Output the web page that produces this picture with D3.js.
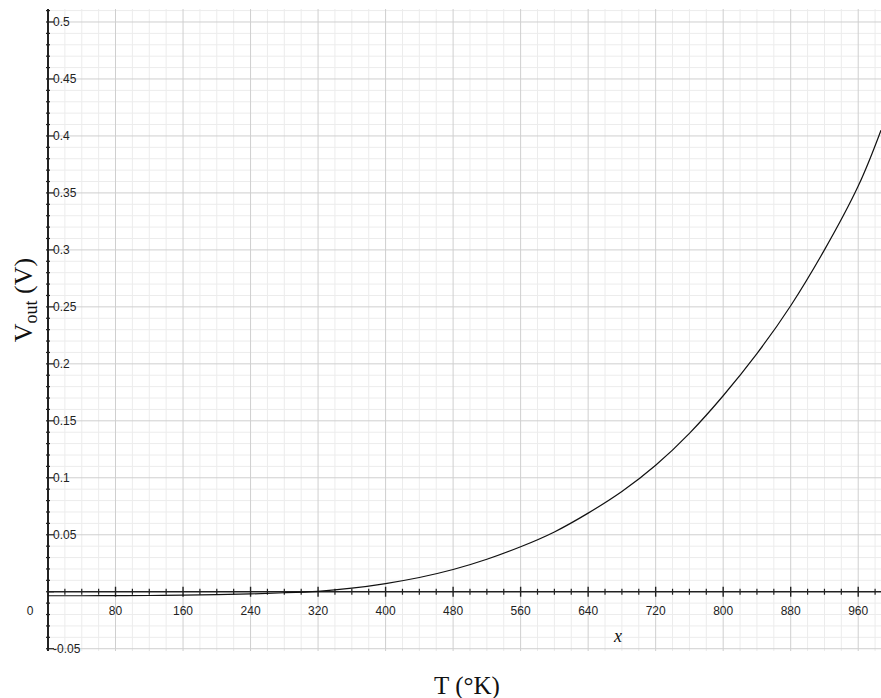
<!DOCTYPE html>
<html>
<head>
<meta charset="utf-8">
<script src="https://cdn.jsdelivr.net/npm/d3@7"></script>
<style>
  body { margin: 0; background: #fff; }
  .tick-label { font-family: "Liberation Sans", Arial, sans-serif; font-size: 12px; fill: #222; }
  .axis-title { font-family: "Liberation Serif", "Times New Roman", serif; fill: #111; }
</style>
</head>
<body>
<svg id="chart" width="881" height="698"></svg>
<script>
// temperature (K) and output voltage (V)
const temps = [0, 40, 80, 120, 160, 200, 240, 280, 320, 360, 400, 440, 480, 520, 560,
               600, 640, 680, 720, 760, 800, 840, 880, 920, 960, 987];
const vout  = [-0.0035, -0.0035, -0.0034, -0.0033, -0.0030, -0.0026, -0.0019, -0.0009, 0.0004,
               0.0031, 0.0072, 0.0125, 0.0195, 0.0285, 0.0395, 0.0525, 0.069, 0.088, 0.111,
               0.139, 0.172, 0.209, 0.251, 0.300, 0.356, 0.405];
const xTicks = [80, 160, 240, 320, 400, 480, 560, 640, 720, 800, 880, 960];
const yTicks = [-0.05, 0.05, 0.1, 0.15, 0.2, 0.25, 0.3, 0.35, 0.4, 0.45, 0.5];

const svg = d3.select("#chart");

let x = d3.scaleLinear().domain([0, 987]).range([48, 881]);
let y = d3.scaleLinear().domain([-0.052, 0.5114]).range([651, 9]);

const [x0, x1] = x.range();
const [yb, yt] = y.range();

// grid: minor every 20 K / 0.01 V, major every 80 K / 0.05 V
let minorX = d3.range(20, 987, 20).filter(d => d % 80 !== 0);
let minorY = d3.range(-5, 52).map(i => i / 100).filter(d => Math.round(d * 100) % 5 !== 0);
let majorY = d3.range(-1, 11).map(i => i * 0.05).filter(d => Math.abs(d) > 1e-9);

const grid = svg.append("g");
grid.selectAll(".gx").data(minorX).enter().append("line")
    .attr("x1", d => x(d)).attr("x2", d => x(d)).attr("y1", yt).attr("y2", yb)
    .attr("stroke", "#ececec").attr("stroke-width", 1);
grid.selectAll(".gy").data(minorY).enter().append("line")
    .attr("x1", x0).attr("x2", x1).attr("y1", d => y(d)).attr("y2", d => y(d))
    .attr("stroke", "#ececec").attr("stroke-width", 1);
grid.selectAll(".gX").data(xTicks).enter().append("line")
    .attr("x1", d => x(d)).attr("x2", d => x(d)).attr("y1", yt).attr("y2", yb)
    .attr("stroke", "#cfcfcf").attr("stroke-width", 1);
grid.selectAll(".gY").data(majorY).enter().append("line")
    .attr("x1", x0).attr("x2", x1).attr("y1", d => y(d)).attr("y2", d => y(d))
    .attr("stroke", "#cfcfcf").attr("stroke-width", 1);

// x axis along V = 0
const xAxisG = svg.append("g").attr("transform", `translate(0,${y(0)})`);
xAxisG.append("line").attr("x1", x0).attr("x2", x1).attr("stroke", "#222").attr("stroke-width", 1.6);
xAxisG.selectAll(".tk").data(d3.range(20, 987, 20)).enter().append("line")
    .attr("x1", d => x(d)).attr("x2", d => x(d))
    .attr("y1", d => d % 80 === 0 ? -5 : -3).attr("y2", d => d % 80 === 0 ? 5 : 3)
    .attr("stroke", "#222").attr("stroke-width", d => d % 80 === 0 ? 1.4 : 1.2);
xAxisG.selectAll(".lb").data(xTicks).enter().append("text")
    .attr("class", "tick-label").attr("text-anchor", "middle")
    .attr("x", d => x(d)).attr("y", 23).text(d => d);
xAxisG.append("text").attr("class", "tick-label").attr("text-anchor", "middle")
    .attr("x", 30).attr("y", 23).text("0");

// y axis at T = 0
const yAxisG = svg.append("g").attr("transform", `translate(${x(0)},0)`);
yAxisG.append("line").attr("y1", yt).attr("y2", yb).attr("stroke", "#222").attr("stroke-width", 2);
yAxisG.selectAll(".tk").data(d3.range(-5, 52).map(i => i / 100)).enter().append("line")
    .attr("y1", d => y(d)).attr("y2", d => y(d))
    .attr("x1", -2)
    .attr("x2", d => Math.round(d * 100) % 5 === 0 ? 6 : 2)
    .attr("stroke", "#222").attr("stroke-width", 1.2);
yAxisG.selectAll(".lb").data(yTicks).enter().append("text")
    .attr("class", "tick-label").attr("x", 5).attr("y", d => y(d)).attr("dy", "0.36em")
    .text(d => d);

// curve
const line = d3.line().x(d => x(d[0])).y(d => y(d[1])).curve(d3.curveNatural);
svg.append("path")
    .datum(temps.map((t, i) => [t, vout[i]]))
    .attr("d", line).attr("fill", "none").attr("stroke", "#111").attr("stroke-width", 1.2);

// labels
svg.append("text").attr("class", "axis-title").attr("font-style", "italic")
    .attr("font-size", 18).attr("text-anchor", "middle")
    .attr("x", 618).attr("y", 642).text("x");

svg.append("text").attr("class", "axis-title").attr("font-size", 25)
    .attr("text-anchor", "middle").attr("x", 467).attr("y", 694).text("T (°K)");

const yl = svg.append("text").attr("class", "axis-title").attr("font-size", 26)
    .attr("text-anchor", "middle")
    .attr("transform", "translate(32,300) rotate(-90)");
yl.append("tspan").text("V");
yl.append("tspan").attr("font-size", 18).attr("dy", 5).text("out");
yl.append("tspan").attr("dy", -5).text(" (V)");
</script>
</body>
</html>
